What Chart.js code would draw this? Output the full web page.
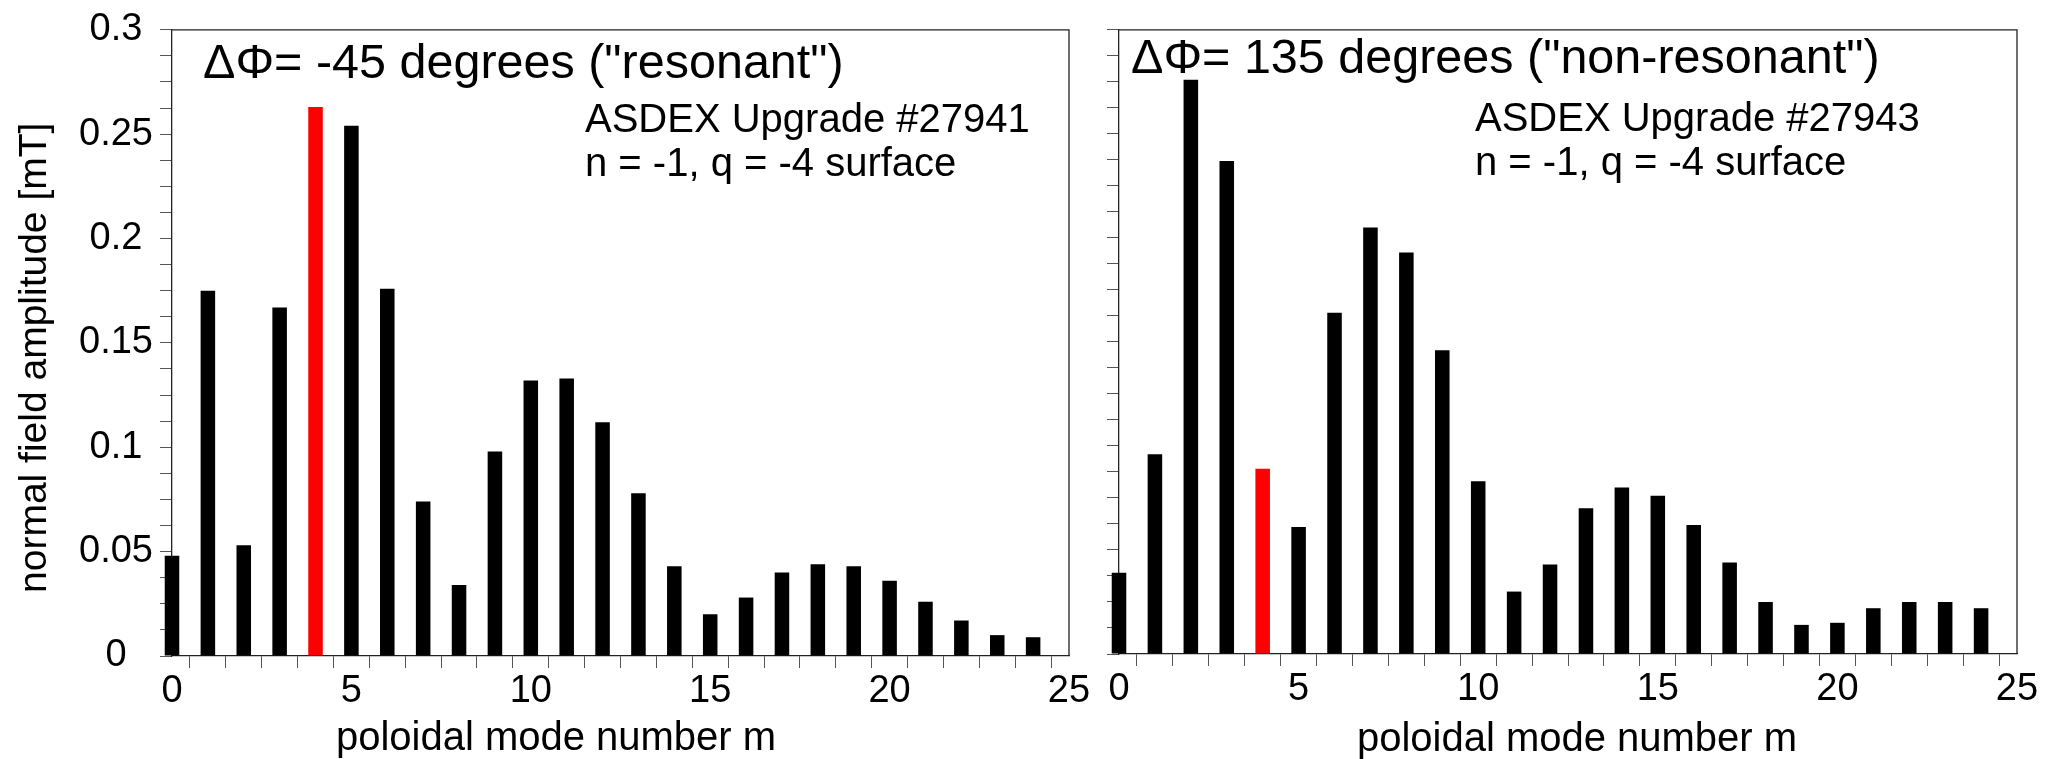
<!DOCTYPE html>
<html>
<head>
<meta charset="utf-8">
<title>Poloidal mode spectra</title>
<script src="https://cdn.jsdelivr.net/npm/chart.js@4.4.1/dist/chart.umd.min.js"></script>
<style>
    html, body { margin: 0; padding: 0; background: #fff; }
    #page { position: relative; width: 2056px; height: 759px; }
    .panel { position: absolute; top: 0; height: 759px; }
    #leftPanel { left: 0; width: 1092px; }
    #rightPanel { left: 1092px; width: 964px; }
</style>
</head>
<body>
<div id="page">
    <div class="panel" id="leftPanel"><canvas id="leftChart"></canvas></div>
    <div class="panel" id="rightPanel"><canvas id="rightChart"></canvas></div>
</div>
<script>
// poloidal mode numbers m
const modes = [0, 1, 2, 3, 4, 5, 6, 7, 8, 9, 10, 11, 12, 13, 14, 15, 16, 17, 18, 19, 20, 21, 22, 23, 24];
const resonantMode = 4;

// normal field amplitude [mT], shot #27941 (dPhi = -45 deg)
const ampResonant = [0.048, 0.175, 0.053, 0.167, 0.263, 0.254, 0.176, 0.074, 0.034, 0.098,
    0.132, 0.133, 0.112, 0.078, 0.043, 0.020, 0.028, 0.040, 0.044, 0.043,
    0.036, 0.026, 0.017, 0.010, 0.009];

// normal field amplitude [mT], shot #27943 (dPhi = 135 deg)
const ampNonResonant = [0.039, 0.096, 0.276, 0.237, 0.089, 0.061, 0.164, 0.205, 0.193, 0.146,
    0.083, 0.030, 0.043, 0.070, 0.080, 0.076, 0.062, 0.044, 0.025, 0.014,
    0.015, 0.022, 0.025, 0.025, 0.022];

const xTickLabels = [0, 5, 10, 15, 20, 25];
const yTickLabels = [0, 0.05, 0.1, 0.15, 0.2, 0.25, 0.3];

const FONT = '"Liberation Sans", Arial, Helvetica, sans-serif';
const AXIS = "#222";

// text drawn relative to the chart area, plus the top/right frame
function makeTextPlugin(items) {
    return {
        id: "panelText",
        beforeDatasetsDraw(chart) {
            const { ctx, chartArea: a } = chart;
            ctx.save();
            ctx.strokeStyle = AXIS;
            ctx.lineWidth = 1.3;
            ctx.beginPath();
            ctx.moveTo(a.left, a.top);
            ctx.lineTo(a.right, a.top);
            ctx.lineTo(a.right, a.bottom);
            ctx.stroke();
            ctx.restore();
        },
        afterDraw(chart) {
            const { ctx, chartArea: a } = chart;
            items.forEach(t => {
                ctx.save();
                ctx.fillStyle = "#000";
                ctx.font = `${t.size}px ${FONT}`;
                ctx.textAlign = t.align || "left";
                ctx.textBaseline = "alphabetic";
                ctx.translate(a.left + t.dx, a.top + t.dy);
                if (t.rotate) ctx.rotate(t.rotate);
                ctx.fillText(t.text, 0, 0);
                ctx.restore();
            });
        }
    };
}

function buildChart(canvasId, values, opts) {
    const ctx = document.getElementById(canvasId).getContext("2d");
    return new Chart(ctx, {
        type: "bar",
        data: {
            datasets: [{
                data: modes.map((m, i) => ({ x: m, y: values[i] })),
                backgroundColor: modes.map(m => m === resonantMode ? "#ff0000" : "#000000"),
                borderWidth: 0,
                categoryPercentage: 1,
                barPercentage: 0.405,
                clip: false
            }]
        },
        options: {
            responsive: true,
            maintainAspectRatio: false,
            animation: false,
            layout: { padding: opts.padding },
            plugins: {
                legend: { display: false },
                tooltip: { enabled: false }
            },
            scales: {
                x: {
                    type: "linear",
                    min: 0,
                    max: 25,
                    offset: false,
                    afterFit: s => { s.height = opts.xHeight; },
                    grid: { drawOnChartArea: false, drawTicks: true, tickLength: 12, color: "#555", lineWidth: 1 },
                    border: { display: true, color: AXIS, width: 1.3 },
                    ticks: {
                        stepSize: 1,
                        autoSkip: false,
                        maxRotation: 0,
                        padding: 1,
                        color: "#000",
                        font: { family: FONT, size: 38 },
                        callback: v => xTickLabels.includes(v) ? String(v) : ""
                    }
                },
                y: {
                    min: 0,
                    max: 0.3,
                    afterFit: s => { s.width = opts.yWidth; },
                    grid: { drawOnChartArea: false, drawTicks: true, tickLength: 12, color: "#555", lineWidth: 1 },
                    border: { display: true, color: AXIS, width: 1.3 },
                    ticks: {
                        stepSize: 0.0125,
                        autoSkip: false,
                        padding: 7,
                        crossAlign: "center",
                        color: "#000",
                        font: { family: FONT, size: 38 },
                        callback: v => {
                            if (!opts.yLabels) return "";
                            const r = Math.round(v * 10000) / 10000;
                            return yTickLabels.includes(r) ? String(r) : "";
                        }
                    }
                }
            }
        },
        plugins: [makeTextPlugin(opts.texts)]
    });
}

buildChart("leftChart", ampResonant, {
    padding: { top: 22, right: 23, left: 0, bottom: 0 },
    xHeight: 103,
    yWidth: 172,
    yLabels: true,
    texts: [
        { text: 'ΔΦ= -45 degrees ("resonant")', dx: 31, dy: 48, size: 48.5 },
        { text: "ASDEX Upgrade #27941", dx: 413, dy: 102, size: 40 },
        { text: "n = -1, q = -4 surface", dx: 413, dy: 146, size: 40 },
        { text: "poloidal mode number m", dx: 384, dy: 720, size: 40, align: "center" },
        { text: "normal field amplitude [mT]", dx: -126, dy: 328, size: 39, align: "center", rotate: -Math.PI / 2 }
    ]
});

buildChart("rightChart", ampNonResonant, {
    padding: { top: 21, right: 39, left: 0, bottom: 0 },
    xHeight: 105,
    yWidth: 27,
    yLabels: false,
    texts: [
        { text: 'ΔΦ= 135 degrees ("non-resonant")', dx: 12, dy: 43, size: 48.5 },
        { text: "ASDEX Upgrade #27943", dx: 356, dy: 101, size: 40 },
        { text: "n = -1, q = -4 surface", dx: 356, dy: 145, size: 40 },
        { text: "poloidal mode number m", dx: 458, dy: 721, size: 40, align: "center" }
    ]
});
</script>
</body>
</html>
